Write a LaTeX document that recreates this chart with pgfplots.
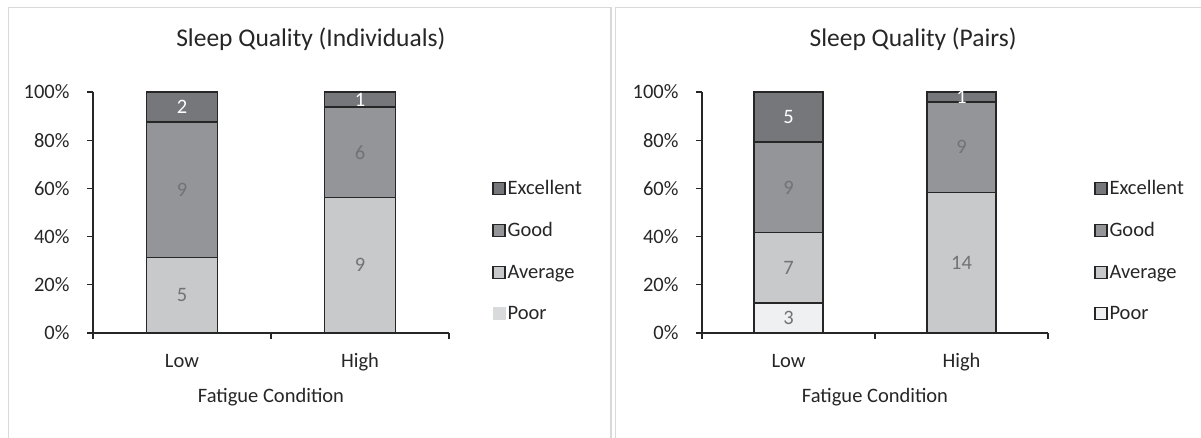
\documentclass[border=0pt]{standalone}
\usepackage{fontspec}
\setmainfont{Carlito}
\usepackage{pgfplots}
\usepackage{pgfplotstable}
\pgfplotsset{compat=1.18}

\definecolor{exc}{HTML}{76777A}
\definecolor{good}{HTML}{939598}
\definecolor{avg}{HTML}{C8C9CB}
\definecolor{poor}{HTML}{EFF0F1}
\definecolor{poorleg}{HTML}{D9DADB}
\definecolor{edge}{HTML}{262626}
\definecolor{lbl}{HTML}{727375}
\definecolor{frame}{HTML}{D9D9D9}

% counts per sleep-quality rating (x: 0 = Low, 1 = High fatigue)
\pgfplotstableread{
x poor avg good exc
0 0 5 9 2
1 0 9 6 1
}\indiv
\pgfplotstableread{
x poor avg good exc
0 3 7 9 5
1 0 14 9 1
}\pairs

\newcommand{\ticksize}{\fontsize{20.5bp}{24bp}\selectfont}
\newcommand{\titlesize}{\fontsize{25.5bp}{30bp}\selectfont}

\pgfplotsset{
  lg/.style={legend image code/.code={\draw[##1, line width=1.3bp] (0bp,-6bp) rectangle (12bp,6bp);}},
  seg/.style={draw=edge, line width=1.6bp, lg},
  frame box/.style={
    scale only axis, height=241bp,
    xmin=-0.5, xmax=1.5, ymin=0, ymax=100, clip=false,
  },
  sleep/.style={
    frame box,
    ybar stacked, bar width=0.4,
    axis x line*=bottom, axis y line*=left,
    axis line style={edge, line width=1.3bp, -},
    tick align=outside, major tick length=6bp,
    tick style={edge, line width=1.3bp},
    xtick={-0.5,0.5,1.5}, xticklabels={},
    extra x ticks={0,1}, extra x tick labels={Low,High},
    extra x tick style={major tick length=0pt, tick style={draw=none}},
    ytick={0,20,40,60,80,100},
    yticklabels={0\%,20\%,40\%,60\%,80\%,100\%},
    ticklabel style={font=\ticksize, text=black!85},
    xticklabel style={anchor=base, yshift=-35bp},
    yticklabel style={anchor=east, xshift=-14bp},
    xlabel={Fatigue Condition},
    xlabel style={font=\ticksize, text=black!85, at={(axis description cs:0.5,-0.267)}, anchor=center},
    title style={font=\titlesize, text=black!85, anchor=center, yshift=47bp},
    reverse legend,
    legend cell align=left,
    legend style={draw=none, fill=none, anchor=west, inner sep=0pt,
      font=\ticksize, text=black!85, row sep=22.5bp,
      /tikz/every even column/.append style={column sep=3bp}},
  },
  % overlay that writes each segment's count in its middle (empty segments stay blank)
  counts/.style={
    frame box, hide axis,
    point meta=explicit symbolic,
    nodes near coords={\ifnum\pgfplotspointmeta=0 \else\pgfplotspointmeta\fi},
    every node near coord/.append style={font=\ticksize, text=lbl, anchor=center, inner sep=0pt},
  },
  cnt/.style={draw=none, mark=none},
}

\begin{document}
\begin{tikzpicture}
\useasboundingbox (0,0) rectangle (1201bp,438bp);
% panel frames
\draw[frame, line width=1.5bp] (8.5bp,-5bp) -- (8.5bp,430.5bp) -- (611bp,430.5bp) -- (611bp,-5bp);
\draw[frame, line width=1.5bp] (615.5bp,-5bp) -- (615.5bp,430.5bp) -- (1215bp,430.5bp);

% individuals: 16 in each condition
\begin{axis}[sleep, at={(93bp,105bp)}, anchor=south west, width=356bp,
  title={Sleep Quality (Individuals)}, title style={at={(0.612,1)}},
  legend style={at={(1.121,0.342)}}]
  \addlegendimage{legend image code/.code={\fill[poorleg] (0bp,-6bp) rectangle (12bp,6bp);}}
  \addlegendentry{Poor}
  \addplot[seg, fill=avg] table[x=x, y expr=\thisrow{avg}*100/16] {\indiv};
  \addlegendentry{Average}
  \addplot[seg, fill=good] table[x=x, y expr=\thisrow{good}*100/16] {\indiv};
  \addlegendentry{Good}
  \addplot[seg, fill=exc] table[x=x, y expr=\thisrow{exc}*100/16] {\indiv};
  \addlegendentry{Excellent}
\end{axis}
\begin{axis}[counts, at={(93bp,105bp)}, anchor=south west, width=356bp]
  \addplot[cnt] table[x=x, y expr=\thisrow{avg}/2*100/16, meta=avg] {\indiv};
  \addplot[cnt] table[x=x, y expr=(\thisrow{avg}+\thisrow{good}/2)*100/16, meta=good] {\indiv};
  \addplot[cnt, every node near coord/.append style={text=white}]
    table[x=x, y expr=(\thisrow{avg}+\thisrow{good}+\thisrow{exc}/2)*100/16, meta=exc] {\indiv};
\end{axis}

% pairs: 24 in each condition
\begin{axis}[sleep, at={(702bp,105bp)}, anchor=south west, width=346bp,
  title={Sleep Quality (Pairs)}, title style={at={(0.61,1)}},
  legend style={at={(1.133,0.342)}}]
  \addplot[seg, fill=poor] table[x=x, y expr=\thisrow{poor}*100/24] {\pairs};
  \addlegendentry{Poor}
  \addplot[seg, fill=avg] table[x=x, y expr=\thisrow{avg}*100/24] {\pairs};
  \addlegendentry{Average}
  \addplot[seg, fill=good] table[x=x, y expr=\thisrow{good}*100/24] {\pairs};
  \addlegendentry{Good}
  \addplot[seg, fill=exc] table[x=x, y expr=\thisrow{exc}*100/24] {\pairs};
  \addlegendentry{Excellent}
\end{axis}
\begin{axis}[counts, at={(702bp,105bp)}, anchor=south west, width=346bp]
  \addplot[cnt] table[x=x, y expr=\thisrow{poor}/2*100/24, meta=poor] {\pairs};
  \addplot[cnt] table[x=x, y expr=(\thisrow{poor}+\thisrow{avg}/2)*100/24, meta=avg] {\pairs};
  \addplot[cnt] table[x=x, y expr=(\thisrow{poor}+\thisrow{avg}+\thisrow{good}/2)*100/24, meta=good] {\pairs};
  \addplot[cnt, every node near coord/.append style={text=white}]
    table[x=x, y expr=(\thisrow{poor}+\thisrow{avg}+\thisrow{good}+\thisrow{exc}/2)*100/24, meta=exc] {\pairs};
\end{axis}
\end{tikzpicture}
\end{document}
